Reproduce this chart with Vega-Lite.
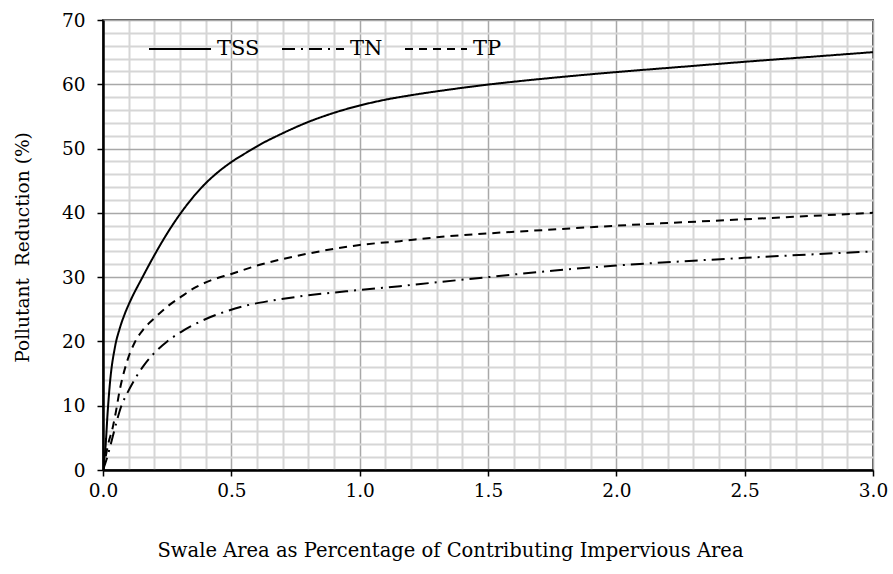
{
  "$schema": "https://vega.github.io/schema/vega-lite/v6.json",
  "width": 770,
  "height": 450,
  "autosize": {"type": "none"},
  "padding": {"left": 103, "top": 20, "right": 20, "bottom": 104},
  "background": "white",
  "config": {
    "view": {"stroke": "#555555", "strokeWidth": 2},
    "font": "DejaVu Serif"
  },
  "data": {
    "values": [
      {"x": 0, "v": 0, "s": "TSS"},
      {"x": 0.005, "v": 1.6, "s": "TSS"},
      {"x": 0.01, "v": 3.7, "s": "TSS"},
      {"x": 0.018, "v": 8.9, "s": "TSS"},
      {"x": 0.027, "v": 13.5, "s": "TSS"},
      {"x": 0.047, "v": 19.2, "s": "TSS"},
      {"x": 0.065, "v": 22, "s": "TSS"},
      {"x": 0.086, "v": 24.4, "s": "TSS"},
      {"x": 0.11, "v": 26.6, "s": "TSS"},
      {"x": 0.15, "v": 29.7, "s": "TSS"},
      {"x": 0.2, "v": 33.4, "s": "TSS"},
      {"x": 0.25, "v": 36.8, "s": "TSS"},
      {"x": 0.3, "v": 39.8, "s": "TSS"},
      {"x": 0.35, "v": 42.4, "s": "TSS"},
      {"x": 0.4, "v": 44.6, "s": "TSS"},
      {"x": 0.45, "v": 46.4, "s": "TSS"},
      {"x": 0.5, "v": 47.9, "s": "TSS"},
      {"x": 0.56, "v": 49.4, "s": "TSS"},
      {"x": 0.62, "v": 50.8, "s": "TSS"},
      {"x": 0.68, "v": 52.0, "s": "TSS"},
      {"x": 0.75, "v": 53.3, "s": "TSS"},
      {"x": 0.81, "v": 54.3, "s": "TSS"},
      {"x": 0.88, "v": 55.3, "s": "TSS"},
      {"x": 0.94, "v": 56.05, "s": "TSS"},
      {"x": 1.0, "v": 56.7, "s": "TSS"},
      {"x": 1.1, "v": 57.6, "s": "TSS"},
      {"x": 1.2, "v": 58.3, "s": "TSS"},
      {"x": 1.3, "v": 58.9, "s": "TSS"},
      {"x": 1.5, "v": 59.95, "s": "TSS"},
      {"x": 1.75, "v": 61, "s": "TSS"},
      {"x": 2.0, "v": 61.9, "s": "TSS"},
      {"x": 2.25, "v": 62.7, "s": "TSS"},
      {"x": 2.5, "v": 63.5, "s": "TSS"},
      {"x": 2.75, "v": 64.25, "s": "TSS"},
      {"x": 3.0, "v": 65, "s": "TSS"},
      {"x": 0, "v": 0, "s": "TN"},
      {"x": 0.015, "v": 1.8, "s": "TN"},
      {"x": 0.038, "v": 5.2, "s": "TN"},
      {"x": 0.055, "v": 7.8, "s": "TN"},
      {"x": 0.07, "v": 9.8, "s": "TN"},
      {"x": 0.095, "v": 12, "s": "TN"},
      {"x": 0.122, "v": 14, "s": "TN"},
      {"x": 0.16, "v": 16.3, "s": "TN"},
      {"x": 0.2, "v": 18.2, "s": "TN"},
      {"x": 0.25, "v": 20, "s": "TN"},
      {"x": 0.305, "v": 21.5, "s": "TN"},
      {"x": 0.39, "v": 23.3, "s": "TN"},
      {"x": 0.474, "v": 24.6, "s": "TN"},
      {"x": 0.56, "v": 25.6, "s": "TN"},
      {"x": 0.65, "v": 26.3, "s": "TN"},
      {"x": 0.767, "v": 27, "s": "TN"},
      {"x": 1.0, "v": 28, "s": "TN"},
      {"x": 1.157, "v": 28.6, "s": "TN"},
      {"x": 1.3, "v": 29.2, "s": "TN"},
      {"x": 1.5, "v": 30, "s": "TN"},
      {"x": 1.75, "v": 31, "s": "TN"},
      {"x": 2.0, "v": 31.8, "s": "TN"},
      {"x": 2.5, "v": 33, "s": "TN"},
      {"x": 3.0, "v": 34, "s": "TN"},
      {"x": 0, "v": 0, "s": "TP"},
      {"x": 0.01, "v": 2, "s": "TP"},
      {"x": 0.02, "v": 4, "s": "TP"},
      {"x": 0.039, "v": 6.8, "s": "TP"},
      {"x": 0.05, "v": 9, "s": "TP"},
      {"x": 0.064, "v": 12.2, "s": "TP"},
      {"x": 0.09, "v": 16.4, "s": "TP"},
      {"x": 0.123, "v": 19.8, "s": "TP"},
      {"x": 0.16, "v": 22, "s": "TP"},
      {"x": 0.2, "v": 23.6, "s": "TP"},
      {"x": 0.25, "v": 25.4, "s": "TP"},
      {"x": 0.306, "v": 27, "s": "TP"},
      {"x": 0.36, "v": 28.4, "s": "TP"},
      {"x": 0.42, "v": 29.5, "s": "TP"},
      {"x": 0.5, "v": 30.5, "s": "TP"},
      {"x": 0.6, "v": 31.8, "s": "TP"},
      {"x": 0.767, "v": 33.4, "s": "TP"},
      {"x": 0.9, "v": 34.4, "s": "TP"},
      {"x": 1.0, "v": 35, "s": "TP"},
      {"x": 1.157, "v": 35.6, "s": "TP"},
      {"x": 1.3, "v": 36.2, "s": "TP"},
      {"x": 1.5, "v": 36.8, "s": "TP"},
      {"x": 1.75, "v": 37.4, "s": "TP"},
      {"x": 2.0, "v": 38, "s": "TP"},
      {"x": 2.5, "v": 39, "s": "TP"},
      {"x": 3.0, "v": 40, "s": "TP"}
    ]
  },
  "mark": {"type": "line", "interpolate": "monotone", "strokeWidth": 2, "color": "black", "clip": true},
  "encoding": {
    "x": {
      "field": "x",
      "type": "quantitative",
      "scale": {"domain": [0, 3], "nice": false},
      "axis": {
        "values": [0,0.1,0.2,0.3,0.4,0.5,0.6,0.7,0.8,0.9,1.0,1.1,1.2,1.3,1.4,1.5,1.6,1.7,1.8,1.9,2.0,2.1,2.2,2.3,2.4,2.5,2.6,2.7,2.8,2.9,3.0],
        "title": "Swale Area as Percentage of Contributing Impervious Area",
        "labelExpr": "abs(datum.value*2 - round(datum.value*2)) < 0.001 ? format(datum.value, '.1f') : ''",
        "labelOverlap": false,
        "labelFontSize": 18.5,
        "labelColor": "black",
        "labelPadding": 5,
        "labelFlush": false,
        "tickColor": {"condition": {"test": "abs(datum.value*2 - round(datum.value*2)) < 0.001", "value": "black"}, "value": "transparent"},
        "tickSize": 6,
        "tickWidth": 1.5,
        "domainColor": "black",
        "domainWidth": 2.5,
        "grid": true,
        "gridColor": {"condition": {"test": "abs(datum.value*2 - round(datum.value*2)) < 0.001", "value": "#a8a8a8"}, "value": "#d6d6d6"},
        "gridWidth": {"condition": {"test": "abs(datum.value*2 - round(datum.value*2)) < 0.001", "value": 1.5}, "value": 2},
        "gridOpacity": 1,
        "titleFontSize": 19.5,
        "titleFontWeight": "normal",
        "titleColor": "black",
        "titleX": 347,
        "titleY": 80,
        "titleBaseline": "middle",
        "titleAlign": "center"
      }
    },
    "y": {
      "field": "v",
      "type": "quantitative",
      "scale": {"domain": [0, 70], "nice": false},
      "axis": {
        "values": [0,2,4,6,8,10,12,14,16,18,20,22,24,26,28,30,32,34,36,38,40,42,44,46,48,50,52,54,56,58,60,62,64,66,68,70],
        "title": "Pollutant\u00a0 Reduction (%)",
        "labelExpr": "datum.value % 10 === 0 ? datum.label : ''",
        "labelOverlap": false,
        "labelFontSize": 18.5,
        "labelColor": "black",
        "labelPadding": 12,
        "labelFlush": false,
        "tickColor": {"condition": {"test": "datum.value % 10 === 0", "value": "black"}, "value": "transparent"},
        "tickSize": 6,
        "tickWidth": 1.5,
        "domainColor": "black",
        "domainWidth": 2.5,
        "grid": true,
        "gridColor": {"condition": {"test": "datum.value % 10 === 0", "value": "#a8a8a8"}, "value": "#d6d6d6"},
        "gridWidth": {"condition": {"test": "datum.value % 10 === 0", "value": 1.5}, "value": 2},
        "gridOpacity": 1,
        "titleFontSize": 18.6,
        "titleFontWeight": "normal",
        "titleColor": "black",
        "titleX": -81,
        "titleY": 227,
        "titleAngle": 270,
        "titleBaseline": "middle",
        "titleAlign": "center"
      }
    },
    "strokeDash": {
      "field": "s",
      "type": "nominal",
      "scale": {"domain": ["TSS", "TN", "TP"], "range": [[1, 0], [13, 6, 2, 6], [8, 6]]},
      "legend": {
        "title": null,
        "orient": "none",
        "direction": "horizontal",
        "legendX": 45,
        "legendY": -3,
        "symbolType": "stroke",
        "symbolSize": 3844,
        "symbolStrokeColor": "black",
        "symbolStrokeWidth": 2,
        "labelFontSize": 21,
        "labelColor": "black",
        "labelOffset": 5,
        "columnPadding": 18
      }
    }
  }
}
